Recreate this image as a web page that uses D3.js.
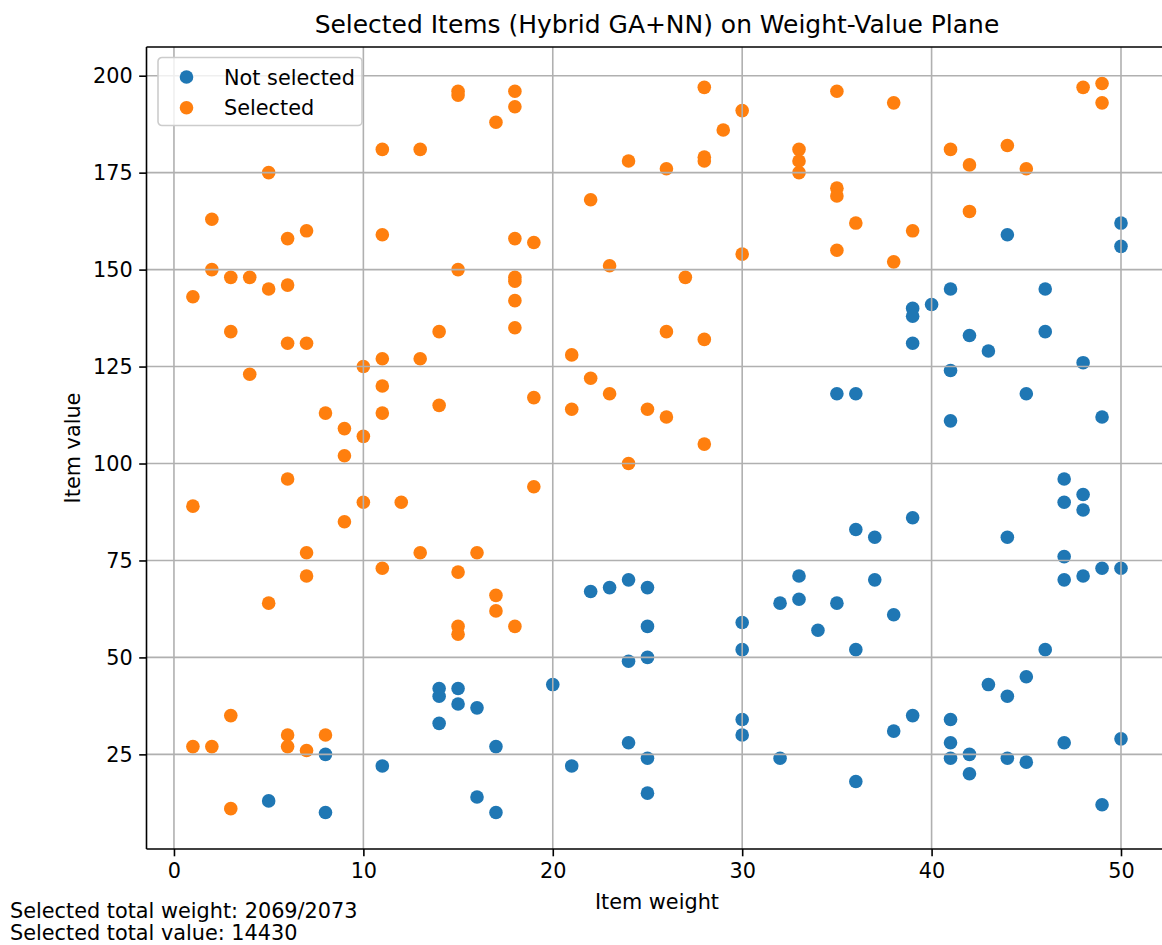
<!DOCTYPE html>
<html>
<head>
<meta charset="utf-8">
<script src="https://cdn.jsdelivr.net/npm/d3@7"></script>
<style>
body { margin: 0; background: #fff; }
text { font-family: "DejaVu Sans", sans-serif; fill: #000; }
</style>
</head>
<body>
<div class="content"></div>
<script>
// items not picked by the solver
var notSelectedWeight = [5, 8, 8, 11, 14, 14, 14, 15, 15, 16, 16, 17, 17, 20, 21, 22, 23, 24, 24, 24,
    25, 25, 25, 25, 25, 30, 30, 30, 30, 32, 32, 33, 33, 34, 35, 35, 36, 36, 36, 36, 37, 37, 38, 38,
    39, 39, 39, 39, 39, 40, 41, 41, 41, 41, 41, 41, 42, 42, 42, 43, 43, 44, 44, 44, 44, 45, 45, 45,
    46, 46, 46, 47, 47, 47, 47, 47, 48, 48, 48, 48, 49, 49, 49, 50, 50, 50, 50];
var notSelectedValue = [13, 25, 10, 22, 42, 40, 33, 42, 38, 37, 14, 27, 10, 43, 22, 67, 68, 70, 49, 28,
    68, 58, 50, 24, 15, 59, 52, 34, 30, 64, 24, 71, 65, 57, 118, 64, 118, 83, 52, 18, 81, 70, 61, 31,
    140, 138, 131, 86, 35, 141, 145, 124, 111, 34, 28, 24, 133, 25, 20, 129, 43, 159, 81, 40, 24, 118, 45, 23,
    145, 134, 52, 96, 90, 76, 70, 28, 126, 92, 88, 71, 112, 73, 12, 162, 156, 73, 29];

// items picked by the solver
var selectedWeight = [1, 1, 1, 2, 2, 2, 3, 3, 3, 3, 4, 4, 5, 5, 5, 6, 6, 6, 6, 6, 6, 7, 7, 7, 7, 7,
    8, 8, 9, 9, 9, 10, 10, 10, 11, 11, 11, 11, 11, 11, 12, 13, 13, 13, 14, 14, 15, 15, 15, 15, 15, 15,
    16, 17, 17, 17, 18, 18, 18, 18, 18, 18, 18, 18, 19, 19, 19, 21, 21, 22, 22, 23, 23, 24, 24, 25,
    26, 26, 26, 27, 28, 28, 28, 28, 28, 29, 30, 30, 33, 33, 33, 35, 35, 35, 35, 36, 38, 38, 39, 41,
    42, 42, 44, 45, 48, 49, 49];
var selectedValue = [143, 89, 27, 163, 150, 27, 148, 134, 35, 11, 148, 123, 175, 145, 64, 158, 146, 131, 96, 30, 27, 160, 131, 77, 71, 26,
    113, 30, 109, 102, 85, 125, 107, 90, 181, 159, 127, 120, 113, 73, 90, 181, 127, 77, 134, 115, 196, 195, 150, 72, 58, 56,
    77, 188, 66, 62, 196, 192, 158, 148, 147, 142, 135, 58, 157, 117, 94, 128, 114, 168, 122, 151, 118, 178, 100, 114,
    176, 134, 112, 148, 197, 179, 178, 132, 105, 186, 191, 154, 181, 178, 175, 196, 171, 169, 155, 162, 193, 152, 160, 181,
    177, 165, 182, 176, 197, 198, 193];

var xTicks = [0, 10, 20, 30, 40, 50];
var yTicks = [25, 50, 75, 100, 125, 150, 175, 200];
var seriesNames = ['Not selected', 'Selected'];
var seriesColors = ['#1f77b4', '#ff7f0e'];
var summaryLines = ['Selected total weight: 2069/2073', 'Selected total value: 14430'];

var width = 1162, height = 945;
var plotLeft = 146.5, plotRight = 1167.4, plotTop = 47, plotBottom = 849;
var fs = 20.8;
var dotR = 6.8;

var svg = d3.select('.content').append('svg')
    .attr('width', width)
    .attr('height', height);

var x = d3.scaleLinear().domain([-1.45, 52.45]).range([plotLeft, plotRight]);
var y = d3.scaleLinear().domain([0.6, 207.4]).range([plotBottom, plotTop]);

function pairs(ws, vs) {
    return ws.map(function(w, i) { return {w: w, v: vs[i]}; });
}

var series = [pairs(notSelectedWeight, notSelectedValue), pairs(selectedWeight, selectedValue)];

// points
series.forEach(function(pts, k) {
    svg.append('g').selectAll('circle')
        .data(pts)
        .enter().append('circle')
        .attr('cx', function(d) { return x(d.w); })
        .attr('cy', function(d) { return y(d.v); })
        .attr('r', dotR)
        .attr('fill', seriesColors[k]);
});

// grid, drawn over the points like matplotlib does
var grid = svg.append('g').attr('stroke', '#b0b0b0').attr('stroke-width', 1.6);
xTicks.forEach(function(t) {
    grid.append('line')
        .attr('x1', x(t)).attr('x2', x(t))
        .attr('y1', plotTop).attr('y2', plotBottom);
});
yTicks.forEach(function(t) {
    grid.append('line')
        .attr('x1', plotLeft).attr('x2', plotRight)
        .attr('y1', y(t)).attr('y2', y(t));
});

// axes
var xAxis = svg.append('g')
    .attr('transform', 'translate(0,' + plotBottom + ')')
    .call(d3.axisBottom(x).tickValues(xTicks).tickSize(7.3).tickPadding(6.5).tickSizeOuter(0));
var yAxis = svg.append('g')
    .attr('transform', 'translate(' + plotLeft + ',0)')
    .call(d3.axisLeft(y).tickValues(yTicks).tickSize(7.3).tickPadding(6.5).tickSizeOuter(0));

[xAxis, yAxis].forEach(function(a) {
    a.select('.domain').remove();
    a.selectAll('line').attr('stroke', '#000').attr('stroke-width', 1.6);
    a.selectAll('text').attr('font-size', fs).attr('font-family', '"DejaVu Sans", sans-serif').attr('fill', '#000');
});

// spines (right one falls outside the picture)
var spines = svg.append('g').attr('stroke', '#000').attr('stroke-width', 1.6);
spines.append('line').attr('x1', plotLeft).attr('x2', plotLeft).attr('y1', plotTop).attr('y2', plotBottom);
spines.append('line').attr('x1', plotLeft).attr('x2', plotRight).attr('y1', plotBottom).attr('y2', plotBottom);
spines.append('line').attr('x1', plotLeft).attr('x2', plotRight).attr('y1', plotTop).attr('y2', plotTop);
spines.append('line').attr('x1', plotRight).attr('x2', plotRight).attr('y1', plotTop).attr('y2', plotBottom);

// labels
svg.append('text')
    .attr('x', (plotLeft + plotRight) / 2)
    .attr('y', 33)
    .attr('text-anchor', 'middle')
    .attr('font-size', fs * 1.2)
    .text('Selected Items (Hybrid GA+NN) on Weight-Value Plane');

svg.append('text')
    .attr('x', (plotLeft + plotRight) / 2)
    .attr('y', 909)
    .attr('text-anchor', 'middle')
    .attr('font-size', fs)
    .text('Item weight');

svg.append('text')
    .attr('transform', 'translate(80,' + ((plotTop + plotBottom) / 2) + ') rotate(-90)')
    .attr('text-anchor', 'middle')
    .attr('font-size', fs)
    .text('Item value');

summaryLines.forEach(function(s, i) {
    svg.append('text')
        .attr('x', 10)
        .attr('y', 918 + i * 22)
        .attr('font-size', fs)
        .text(s);
});

// legend
var legend = svg.append('g').attr('transform', 'translate(158,57.5)');
legend.append('rect')
    .attr('width', 204)
    .attr('height', 68)
    .attr('rx', 4)
    .attr('fill', '#fff')
    .attr('fill-opacity', 0.8)
    .attr('stroke', '#cccccc')
    .attr('stroke-width', 1.6);
seriesNames.forEach(function(name, i) {
    legend.append('circle')
        .attr('cx', 28.5)
        .attr('cy', 19.5 + i * 30.7)
        .attr('r', dotR)
        .attr('fill', seriesColors[i]);
    legend.append('text')
        .attr('x', 66)
        .attr('y', 19.5 + i * 30.7 + 7.5)
        .attr('font-size', fs)
        .text(name);
});
</script>
</body>
</html>
